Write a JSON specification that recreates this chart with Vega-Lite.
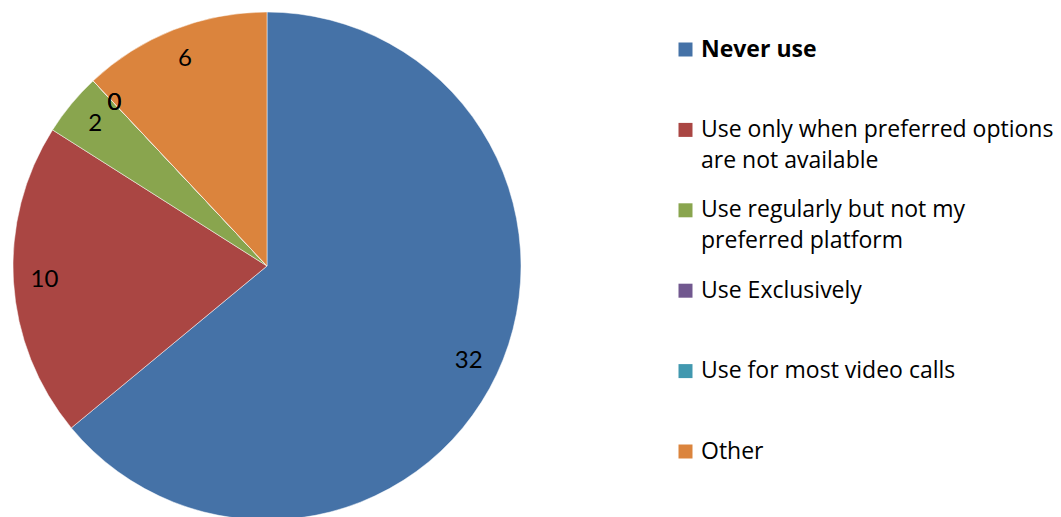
{
  "$schema": "https://vega.github.io/schema/vega-lite/v6.json",
  "width": 534,
  "height": 532,
  "padding": 0,
  "background": "white",
  "config": {
    "view": {"stroke": null},
    "style": {"guide-label": {"lineHeight": 31}}
  },
  "data": {
    "values": [
      {"category": "Never use", "value": 32, "order": 1},
      {"category": "Use only when preferred options are not available", "value": 10, "order": 2},
      {"category": "Use regularly but not my preferred platform", "value": 2, "order": 3},
      {"category": "Use Exclusively", "value": 0, "order": 4},
      {"category": "Use for most video calls", "value": 0, "order": 5},
      {"category": "Other", "value": 6, "order": 6}
    ]
  },
  "encoding": {
    "theta": {"field": "value", "type": "quantitative", "stack": true},
    "order": {"field": "order", "type": "quantitative"}
  },
  "layer": [
    {
      "mark": {"type": "arc", "outerRadius": 254, "stroke": "white", "strokeWidth": 0.5},
      "encoding": {
        "color": {
          "field": "category",
          "type": "nominal",
          "sort": ["Never use", "Use only when preferred options are not available", "Use regularly but not my preferred platform", "Use Exclusively", "Use for most video calls", "Other"],
          "scale": {
            "domain": ["Never use", "Use only when preferred options are not available", "Use regularly but not my preferred platform", "Use Exclusively", "Use for most video calls", "Other"],
            "range": ["#4572A7", "#AA4643", "#89A54E", "#71588F", "#4198AF", "#DB843D"]
          },
          "legend": {
            "orient": "none",
            "legendX": 674,
            "legendY": 38,
            "title": null,
            "symbolType": "square",
            "symbolSize": 196,
            "symbolStrokeWidth": 0,
            "symbolOpacity": 1,
            "labelFont": "Open Sans",
            "labelFontSize": 23,
            "labelFontWeight": {"expr": "datum.value === 'Never use' ? 'bold' : 'normal'"},
            "labelColor": "black",
            "labelLimit": 500,
            "labelOffset": 4,
            "labelBaseline": "middle",
            "rowPadding": 25.4,
            "labelExpr": "datum.value == 'Use only when preferred options are not available' ? ['Use only when preferred options', 'are not available'] : datum.value == 'Use regularly but not my preferred platform' ? ['Use regularly but not my', 'preferred platform'] : [datum.value, '']"
          }
        }
      }
    },
    {
      "mark": {"type": "text", "radius": 223, "font": "Lato", "fontSize": 24, "color": "black"},
      "encoding": {
        "text": {"field": "value", "type": "quantitative"},
        "detail": {"field": "category"}
      }
    }
  ]
}
